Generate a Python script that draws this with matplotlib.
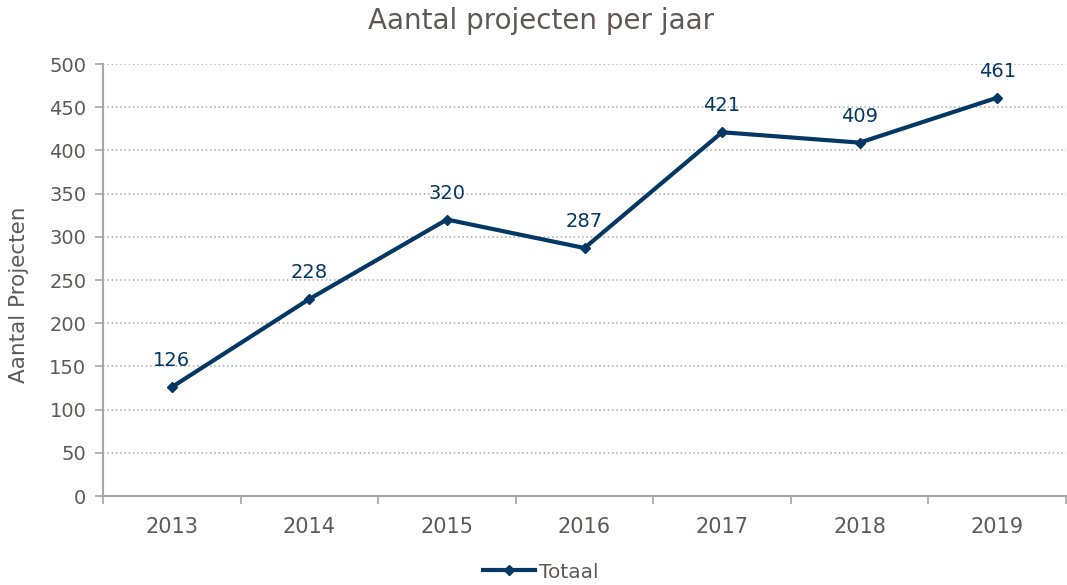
import matplotlib
matplotlib.use("Agg")
import matplotlib.pyplot as plt
import numpy as np

years = ["2013", "2014", "2015", "2016", "2017", "2018", "2019"]
totaal = [126, 228, 320, 287, 421, 409, 461]
yticks = [0, 50, 100, 150, 200, 250, 300, 350, 400, 450, 500]

text_c = "#605858"
line_c = "#033764"
axis_c = "#A6A6A6"

plt.rcParams['font.family'] = ['DejaVu Sans']

fig = plt.figure(figsize=(10.67, 5.85), dpi=100)
ax = fig.add_axes([103/1067, 1-496/585, (1066-103)/1067, (496-64)/585])

x = np.arange(len(years))
ax.plot(x, totaal, color=line_c, lw=3, marker="D", ms=5, label="Totaal", zorder=3)
for xi, v in zip(x, totaal):
    ax.annotate(str(v), (xi, v), xytext=(0, 19), textcoords="offset points",
                ha="center", va="center", fontsize=14, color=line_c)

ax.set_xlim(-0.5, len(years)-0.5)
ax.set_ylim(0, 500)
ax.set_yticks(yticks)
ax.set_yticklabels([str(t) for t in yticks])
ax.set_xticks(x)
ax.set_xticklabels(years)
ax.set_xticks(np.arange(-0.5, len(years), 1.0), minor=True)
ax.tick_params(axis="x", which="major", length=0, pad=15, labelsize=15, labelcolor=text_c)
ax.tick_params(axis="x", which="minor", length=6, color=axis_c, width=1.2, direction="out")
ax.tick_params(axis="y", length=6, color=axis_c, width=1.2, labelsize=14, labelcolor=text_c, pad=6)

for yt in yticks[1:]:
    ax.axhline(yt, color="#A8A8A8", lw=1.1, ls=(0, (1, 1.8)), zorder=1)

for s in ["top", "right"]:
    ax.spines[s].set_visible(False)
for s in ["left", "bottom"]:
    ax.spines[s].set_color(axis_c)
    ax.spines[s].set_linewidth(1.5)

ax.set_ylabel("Aantal Projecten", fontsize=15.5, color=text_c)
ax.yaxis.set_label_coords((29-103)/963, (496-295)/432)
fig.text(541/1067, 1-21/585, "Aantal projecten per jaar", ha="center", va="center",
         fontsize=20, color=text_c)

leg = fig.legend(loc="center", bbox_to_anchor=(541/1067, 1-572/585), frameon=False,
                 fontsize=14.5, handlelength=2.6, handletextpad=0.2)
for t in leg.get_texts():
    t.set_color(text_c)

fig.savefig("out.png", dpi=100)
